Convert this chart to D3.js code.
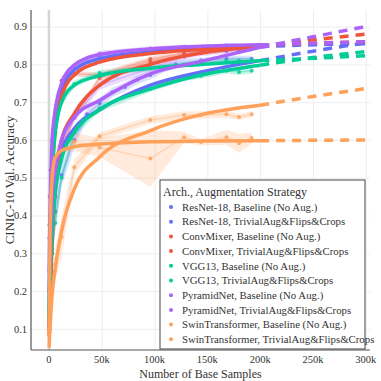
<!DOCTYPE html>
<html>
<head>
<meta charset="utf-8">
<script src="https://cdn.jsdelivr.net/npm/d3@7"></script>
<style>
  body { margin: 0; background: #fff; }
  svg text { font-family: "Liberation Serif", "DejaVu Serif", serif; fill: #333; }
</style>
</head>
<body>
<div id="chart"></div>
<script>
// sample counts in thousands
const xFit = [0.2, 0.5, 1, 2, 3, 6, 12, 24, 48, 96, 144, 200, 250, 300];
const xObs = [0.375, 0.75, 1.5, 3, 6, 12, 24, 48, 96, 128, 144, 168, 180, 192];
const xObsResNet = [0.375, 1.5, 3, 6, 12, 24, 36, 48, 60, 72, 84, 96, 108, 120, 144, 168, 192];
const solidUntil = 200;

const seriesNames = [
  "ResNet-18, Baseline (No Aug.)",
  "ResNet-18, TrivialAug&Flips&Crops",
  "ConvMixer, Baseline (No Aug.)",
  "ConvMixer, TrivialAug&Flips&Crops",
  "VGG13, Baseline (No Aug.)",
  "VGG13, TrivialAug&Flips&Crops",
  "PyramidNet, Baseline (No Aug.)",
  "PyramidNet, TrivialAug&Flips&Crops",
  "SwinTransformer, Baseline (No Aug.)",
  "SwinTransformer, TrivialAug&Flips&Crops"
];
const seriesColors = ["#636efa", "#636efa", "#ef553b", "#ef553b", "#00cc96", "#00cc96",
                      "#ab63fa", "#ab63fa", "#ffa15a", "#ffa15a"];

// fitted curves, read at xFit
const fitResNetBase = [0.1, 0.14, 0.2, 0.3, 0.37, 0.48, 0.57, 0.63, 0.68, 0.745, 0.78, 0.81, 0.835, 0.857];
const fitResNetAug = [0.13, 0.2, 0.3, 0.45, 0.54, 0.66, 0.735, 0.785, 0.815, 0.833, 0.842, 0.847, 0.852, 0.855];
const fitConvBase = [0.08, 0.1, 0.15, 0.25, 0.33, 0.47, 0.6, 0.67, 0.745, 0.8, 0.83, 0.848, 0.865, 0.88];
const fitConvAug = [0.1, 0.15, 0.25, 0.4, 0.5, 0.63, 0.715, 0.772, 0.806, 0.829, 0.84, 0.85, 0.856, 0.86];
const fitVggBase = [0.12, 0.17, 0.22, 0.3, 0.36, 0.46, 0.55, 0.62, 0.68, 0.735, 0.772, 0.798, 0.818, 0.834];
const fitVggAug = [0.15, 0.22, 0.3, 0.42, 0.5, 0.62, 0.7, 0.745, 0.77, 0.79, 0.8, 0.81, 0.816, 0.823];
const fitPyrBase = [0.2, 0.25, 0.3, 0.38, 0.44, 0.52, 0.6, 0.66, 0.705, 0.775, 0.808, 0.845, 0.873, 0.9];
const fitPyrAug = [0.25, 0.32, 0.4, 0.52, 0.6, 0.68, 0.75, 0.798, 0.826, 0.841, 0.848, 0.852, 0.856, 0.86];
const fitSwinBase = [0.05, 0.08, 0.1, 0.15, 0.19, 0.26, 0.36, 0.47, 0.555, 0.625, 0.667, 0.692, 0.715, 0.736];
const fitSwinAug = [0.08, 0.2, 0.33, 0.45, 0.5, 0.555, 0.572, 0.582, 0.589, 0.595, 0.597, 0.598, 0.599, 0.6];

// observed means and band half widths
const obsResNetBase = [0.155, 0.22, 0.31, 0.41, 0.507, 0.6, 0.668, 0.697, 0.726, 0.74, 0.76, 0.772, 0.788, 0.8, 0.81, 0.815, 0.815];
const bandResNetBase = [0.01, 0.03, 0.04, 0.04, 0.03, 0.02, 0.014, 0.014, 0.012, 0.012, 0.012, 0.012, 0.01, 0.01, 0.008, 0.008, 0.008];
const obsResNetAug = [0.2, 0.25, 0.4, 0.52, 0.64, 0.745, 0.79, 0.82, 0.835, 0.84, 0.842, 0.845, 0.843, 0.845];
const bandResNetAug = [0.01, 0.02, 0.02, 0.02, 0.015, 0.01, 0.008, 0.008, 0.006, 0.006, 0.006, 0.006, 0.006, 0.006];
const obsConvBase = [0.09, 0.12, 0.2, 0.3, 0.45, 0.58, 0.66, 0.764, 0.807, 0.825, 0.83, 0.838, 0.84, 0.842];
const bandConvBase = [0.01, 0.02, 0.03, 0.03, 0.02, 0.015, 0.01, 0.008, 0.006, 0.006, 0.006, 0.006, 0.006, 0.006];
const obsConvAug = [0.12, 0.2, 0.33, 0.46, 0.62, 0.757, 0.775, 0.772, 0.814, 0.83, 0.835, 0.84, 0.842, 0.845];
const bandConvAug = [0.01, 0.02, 0.03, 0.03, 0.02, 0.01, 0.008, 0.006, 0.006, 0.006, 0.006, 0.006, 0.006, 0.006];
const obsVggBase = [0.15, 0.19, 0.24, 0.3, 0.38, 0.5, 0.62, 0.684, 0.735, 0.764, 0.77, 0.783, 0.78, 0.783];
const bandVggBase = [0.01, 0.02, 0.03, 0.03, 0.02, 0.015, 0.01, 0.01, 0.008, 0.008, 0.008, 0.008, 0.008, 0.008];
const obsVggAug = [0.2, 0.27, 0.35, 0.5, 0.62, 0.705, 0.748, 0.777, 0.79, 0.8, 0.805, 0.809, 0.81, 0.81];
const bandVggAug = [0.01, 0.02, 0.03, 0.03, 0.02, 0.015, 0.01, 0.008, 0.008, 0.008, 0.008, 0.008, 0.008, 0.008];
const obsPyrBase = [0.34, 0.36, 0.38, 0.42, 0.5, 0.6, 0.658, 0.745, 0.79, 0.82, 0.83, 0.835, 0.84, 0.842];
const bandPyrBase = [0.02, 0.02, 0.03, 0.03, 0.02, 0.015, 0.012, 0.012, 0.01, 0.008, 0.008, 0.008, 0.008, 0.008];
const obsPyrAug = [0.375, 0.45, 0.52, 0.6, 0.68, 0.757, 0.797, 0.828, 0.842, 0.847, 0.845, 0.85, 0.848, 0.85];
const bandPyrAug = [0.01, 0.02, 0.02, 0.02, 0.015, 0.012, 0.01, 0.008, 0.006, 0.006, 0.006, 0.006, 0.006, 0.006];
const obsSwinBase = [0.1, 0.13, 0.17, 0.217, 0.27, 0.343, 0.528, 0.61, 0.653, 0.666, 0.666, 0.668, 0.661, 0.668];
const bandSwinBase = [0.01, 0.02, 0.03, 0.03, 0.04, 0.055, 0.02, 0.01, 0.01, 0.01, 0.01, 0.01, 0.008, 0.008];
const obsSwinAug = [0.095, 0.2, 0.35, 0.48, 0.557, 0.59, 0.595, 0.58, 0.551, 0.607, 0.594, 0.607, 0.591, 0.605];
const bandSwinAug = [0.01, 0.02, 0.03, 0.03, 0.02, 0.025, 0.025, 0.025, 0.075, 0.015, 0.008, 0.02, 0.025, 0.015];

const yTicks = [0.1, 0.2, 0.3, 0.4, 0.5, 0.6, 0.7, 0.8, 0.9];
const xTicks = [0, 50, 100, 150, 200, 250, 300];

const series = [
  { fit: fitResNetBase, xs: xObsResNet, obs: obsResNetBase, band: bandResNetBase },
  { fit: fitResNetAug, xs: xObs, obs: obsResNetAug, band: bandResNetAug },
  { fit: fitConvBase, xs: xObs, obs: obsConvBase, band: bandConvBase },
  { fit: fitConvAug, xs: xObs, obs: obsConvAug, band: bandConvAug },
  { fit: fitVggBase, xs: xObs, obs: obsVggBase, band: bandVggBase },
  { fit: fitVggAug, xs: xObs, obs: obsVggAug, band: bandVggAug },
  { fit: fitPyrBase, xs: xObs, obs: obsPyrBase, band: bandPyrBase },
  { fit: fitPyrAug, xs: xObs, obs: obsPyrAug, band: bandPyrAug },
  { fit: fitSwinBase, xs: xObs, obs: obsSwinBase, band: bandSwinBase },
  { fit: fitSwinAug, xs: xObs, obs: obsSwinAug, band: bandSwinAug }
].map((s, i) => ({ ...s, name: seriesNames[i], color: seriesColors[i] }));

const W = 381, H = 381;
const margin = { top: 10, right: 11, bottom: 31, left: 31 };
const svg = d3.select('#chart').append('svg')
  .attr('width', W).attr('height', H)
  .attr('font-family', '"Liberation Serif", "DejaVu Serif", serif');

const x = d3.scaleLinear().domain([-17, 304]).range([margin.left, W - margin.right]);
const y = d3.scaleLinear().domain([0.044, 0.944]).range([H - margin.bottom, margin.top]);

svg.append('clipPath').attr('id', 'clip').append('rect')
  .attr('x', margin.left).attr('y', margin.top)
  .attr('width', W - margin.left - margin.right).attr('height', H - margin.top - margin.bottom);

// grid
svg.append('g')
  .attr('transform', `translate(${margin.left},0)`)
  .call(d3.axisLeft(y).tickValues(yTicks).tickSize(-(W - margin.left - margin.right)).tickFormat(''))
  .call(g => g.select('.domain').remove())
  .call(g => g.selectAll('line').attr('stroke', '#eeeeee'));
svg.append('g')
  .attr('transform', `translate(0,${H - margin.bottom})`)
  .call(d3.axisBottom(x).tickValues(xTicks.filter(d => d > 0)).tickSize(-(H - margin.top - margin.bottom)).tickFormat(''))
  .call(g => g.select('.domain').remove())
  .call(g => g.selectAll('line').attr('stroke', '#eeeeee'));

// zero line
svg.append('line')
  .attr('x1', x(0)).attr('x2', x(0))
  .attr('y1', margin.top).attr('y2', H - margin.bottom)
  .attr('stroke', '#d4d4d4').attr('stroke-width', 2.5);

const plot = svg.append('g').attr('clip-path', 'url(#clip)');

const area = d3.area()
  .x(d => x(d[0]))
  .y0(d => y(d[1] - d[2]))
  .y1(d => y(d[1] + d[2]));
const line = d3.line().x(d => x(d[0])).y(d => y(d[1]));
const fitLine = d3.line().x(d => x(d[0])).y(d => y(d[1])).curve(d3.curveMonotoneX);

series.forEach(s => {
  const pts = s.xs.map((v, i) => [v, s.obs[i], s.band[i]]);
  plot.append('path').datum(pts)
    .attr('d', area)
    .attr('fill', s.color).attr('fill-opacity', 0.22);
  plot.append('path').datum(pts)
    .attr('d', line)
    .attr('fill', 'none').attr('stroke', s.color)
    .attr('stroke-opacity', 0.3).attr('stroke-width', 1.5);
  plot.selectAll(null).data(pts).enter().append('circle')
    .attr('cx', d => x(d[0])).attr('cy', d => y(d[1]))
    .attr('r', 2).attr('fill', s.color).attr('fill-opacity', 0.85);
});

series.forEach(s => {
  const pts = xFit.map((v, i) => [v, s.fit[i]]);
  plot.append('path').datum(pts.filter(d => d[0] <= solidUntil))
    .attr('d', fitLine)
    .attr('fill', 'none').attr('stroke', s.color).attr('stroke-width', 3.5);
  plot.append('path').datum(pts.filter(d => d[0] >= solidUntil))
    .attr('d', fitLine)
    .attr('fill', 'none').attr('stroke', s.color).attr('stroke-width', 3.5)
    .attr('stroke-dasharray', '9,7');
});

// axis lines
svg.append('line')
  .attr('x1', margin.left).attr('x2', margin.left)
  .attr('y1', margin.top).attr('y2', H - margin.bottom)
  .attr('stroke', '#555').attr('stroke-width', 1.2);
svg.append('line')
  .attr('x1', margin.left).attr('x2', W - margin.right)
  .attr('y1', H - margin.bottom).attr('y2', H - margin.bottom)
  .attr('stroke', '#555').attr('stroke-width', 1.2);

// tick labels
svg.append('g').selectAll('text').data(yTicks).enter().append('text')
  .attr('x', margin.left - 4).attr('y', d => y(d)).attr('dy', '0.35em')
  .attr('text-anchor', 'end').attr('font-size', 10.5)
  .text(d => d3.format('.1f')(d));
svg.append('g').selectAll('text').data(xTicks).enter().append('text')
  .attr('x', d => x(d)).attr('y', H - margin.bottom + 13)
  .attr('text-anchor', 'middle').attr('font-size', 10.5)
  .text(d => d === 0 ? '0' : d + 'k');

// axis titles
svg.append('text')
  .attr('transform', `translate(9,${(margin.top + H - margin.bottom) / 2}) rotate(-90)`)
  .attr('text-anchor', 'middle').attr('dy', '0.35em').attr('font-size', 13)
  .text('CINIC-10 Val. Accuracy');
svg.append('text')
  .attr('x', (margin.left + W - margin.right) / 2).attr('y', H - 3)
  .attr('text-anchor', 'middle').attr('font-size', 12)
  .text('Number of Base Samples');

// legend
const legend = svg.append('g').attr('transform', 'translate(160,180)');
legend.append('rect')
  .attr('width', 205).attr('height', 169)
  .attr('fill', '#fff').attr('stroke', '#444').attr('stroke-width', 1);
legend.append('text')
  .attr('x', 3).attr('y', 16).attr('font-size', 12)
  .text('Arch., Augmentation Strategy');
const items = legend.selectAll('g.item').data(series).enter().append('g')
  .attr('class', 'item')
  .attr('transform', (d, i) => `translate(0,${27 + i * 14.7})`);
items.append('circle').attr('cx', 11).attr('cy', 0).attr('r', 2).attr('fill', d => d.color);
items.append('text').attr('x', 22).attr('y', 0).attr('dy', '0.35em')
  .attr('font-size', 10.8).text(d => d.name);
</script>
</body>
</html>
